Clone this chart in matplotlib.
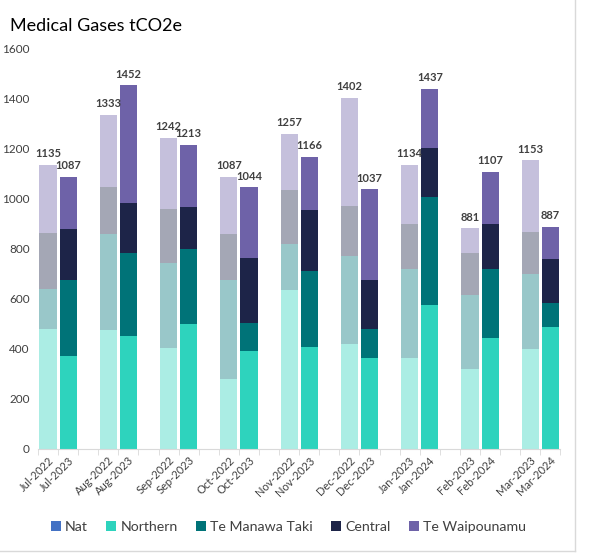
import numpy as np
import matplotlib
matplotlib.use("Agg")
import matplotlib.pyplot as plt
from matplotlib.patches import Patch
from matplotlib.lines import Line2D

plt.rcParams['font.family'] = ['Lato', 'DejaVu Sans']

months = ["Jul", "Aug", "Sep", "Oct", "Nov", "Dec", "Jan", "Feb", "Mar"]
years_prev = ["2022", "2022", "2022", "2022", "2022", "2022", "2023", "2023", "2023"]
years_curr = ["2023", "2023", "2023", "2023", "2023", "2023", "2024", "2024", "2024"]

# previous year (2022/23) by region
nat_prev = [0, 0, 0, 0, 0, 0, 0, 0, 0]
northern_prev = [480, 476, 401, 280, 633, 417, 363, 321, 399]
tmt_prev = [160, 380, 340, 393, 184, 352, 354, 294, 298]
central_prev = [220, 188, 215, 184, 216, 202, 182, 169, 168]
tw_prev = [275, 289, 286, 230, 224, 431, 235, 97, 288]

# current year (2023/24) by region
nat_curr = [0, 0, 0, 0, 0, 0, 0, 0, 0]
northern_curr = [370, 450, 499, 391, 407, 365, 576, 443, 487]
tmt_curr = [306, 334, 298, 110, 305, 112, 428, 274, 96]
central_curr = [201, 196, 170, 263, 241, 198, 196, 182, 177]
tw_curr = [210, 472, 246, 280, 213, 362, 237, 208, 127]

regions = ["Nat", "Northern", "Te Manawa Taki", "Central", "Te Waipounamu"]
colors = ["#4472C4", "#2ED3BD", "#007378", "#1D2448", "#6E62A8"]

prev = [nat_prev, northern_prev, tmt_prev, central_prev, tw_prev]
curr = [nat_curr, northern_curr, tmt_curr, central_curr, tw_curr]

fig = plt.figure(figsize=(5.89, 5.55), dpi=100)
ax = fig.add_axes([0.0645, 0.191, 0.887, 0.7225])

n = len(months)
x_prev = np.arange(n) * 3 + 0.5
x_curr = np.arange(n) * 3 + 1.5
w = 0.85

bottom_p = np.zeros(n)
bottom_c = np.zeros(n)
for vals_p, vals_c, col in zip(prev, curr, colors):
    ax.bar(x_prev, vals_p, w, bottom=bottom_p, color=col, alpha=0.4, linewidth=0)
    ax.bar(x_curr, vals_c, w, bottom=bottom_c, color=col, linewidth=0)
    bottom_p += np.array(vals_p)
    bottom_c += np.array(vals_c)

# totals above each bar
for xs, tops in [(x_prev, bottom_p), (x_curr, bottom_c)]:
    for xx, t in zip(xs, tops):
        ax.text(xx, t + 22, f"{int(t)}", ha="center", va="bottom",
                fontsize=8, fontweight="bold", color="#404040")

ax.set_xlim(0, 3 * n - 1)
ax.set_ylim(0, 1600)
ax.set_yticks(np.arange(0, 1601, 200))
ax.tick_params(axis="y", length=0, labelsize=8.5, labelcolor="#404040", pad=6)

tick_pos = np.sort(np.concatenate([x_prev, x_curr]))
tick_labels = []
for m, yp, yc in zip(months, years_prev, years_curr):
    tick_labels += [f"{m}-{yp}", f"{m}-{yc}"]
ax.set_xticks(tick_pos)
ax.set_xticklabels(tick_labels, rotation=45, ha="right", rotation_mode="anchor",
                   fontsize=8, color="#404040")
ax.tick_params(axis="x", length=0, pad=4)
ax.set_xticks(np.arange(0, 3 * n), minor=True)
ax.tick_params(axis="x", which="minor", length=4, color="#D9D9D9", direction="out")

for s in ["top", "right", "left"]:
    ax.spines[s].set_visible(False)
ax.spines["bottom"].set_color("#D9D9D9")

fig.text(0.017, 0.945, "Medical Gases tCO2e", fontsize=13, color="black")

handles = [Patch(facecolor=c, edgecolor="none") for c in colors]
fig.legend(handles, regions, loc="center", bbox_to_anchor=(0.49, 0.05), ncol=5,
           frameon=False, fontsize=10.2, handlelength=0.7, handleheight=0.7,
           handletextpad=0.3, columnspacing=1.3, labelcolor="#404040")

# chart border (right and bottom visible)
fig.add_artist(Line2D([0.976, 0.976], [0.008, 1.0], transform=fig.transFigure,
                      color="#D9D9D9", linewidth=1))
fig.add_artist(Line2D([0.0, 0.976], [0.008, 0.008], transform=fig.transFigure,
                      color="#D9D9D9", linewidth=1))

fig.savefig("out.png", dpi=100)
